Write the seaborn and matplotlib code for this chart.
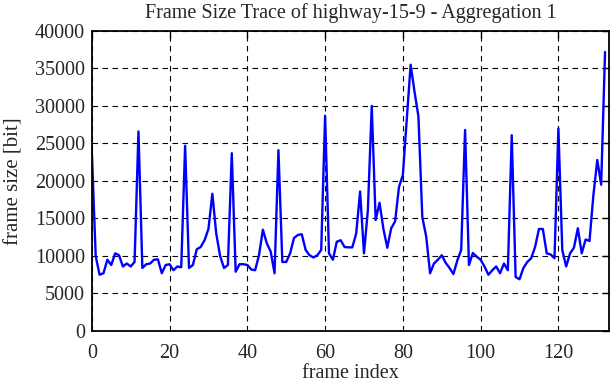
import numpy as np
import pandas as pd
import matplotlib
matplotlib.use('Agg')
import matplotlib.pyplot as plt
import seaborn as sns

# frame sizes, one per frame index 0..132
frame_size = [
    24000, 10000, 7500, 7700, 9500, 8800, 10350, 10100, 8600, 9000,
    8600, 9200, 26600, 8400, 8900, 9000, 9500, 9550, 7700, 8800,
    8900, 8100, 8600, 8500, 24700, 8400, 8800, 10900, 11200, 12100,
    13600, 18300, 13000, 10000, 8400, 8800, 23700, 7900, 8900, 8900,
    8800, 8200, 8100, 10100, 13500, 11700, 10600, 7700, 24100, 9200,
    9200, 10350, 12400, 12800, 12900, 10800, 10100, 9800, 10100, 10800,
    28700, 10350, 9500, 11900, 12100, 11200, 11150, 11150, 13000, 18600,
    10350, 16100, 30000, 14800, 17100, 13600, 11100, 13700, 14600, 19200,
    20800, 28100, 35500, 31900, 28600, 15200, 12600, 7700, 9000, 9500,
    10100, 9100, 8400, 7600, 9400, 10800, 26800, 8800, 10400, 9900,
    9500, 8600, 7500, 8100, 8600, 7700, 9000, 8100, 26100, 7200,
    6900, 8400, 9200, 9700, 11200, 13600, 13600, 10350, 10200, 9700,
    27000, 10800, 8600, 10350, 11100, 13700, 10350, 12200, 12000, 18100,
    22800, 19500, 37200,
]
frame_index = list(range(len(frame_size)))

x_ticks = [0, 20, 40, 60, 80, 100, 120]
y_ticks = [0, 5000, 10000, 15000, 20000, 25000, 30000, 35000, 40000]

df = pd.DataFrame({'frame index': frame_index, 'frame size': frame_size})

sns.set_style('white')
plt.rcParams['font.family'] = ['Liberation Serif', 'DejaVu Serif']
fs = 14.5

fig = plt.figure(figsize=(6.12, 3.82), dpi=100)
ax = fig.add_axes([0.150, 0.1335, 0.845, 0.7855])

sns.lineplot(data=df, x='frame index', y='frame size', ax=ax,
             color='#0000ff', linewidth=1.7)

ax.set_xlim(0, 133)
ax.set_ylim(0, 40000)
ax.set_xticks(x_ticks)
ax.set_yticks(y_ticks)
ax.grid(True, color='black', linestyle=(0, (5, 4)), linewidth=0.8)
ax.tick_params(direction='in', length=5, width=1, color='black',
               top=True, right=True, labelsize=fs, pad=5)
ax.tick_params(axis='x', pad=9)
for s in ax.spines.values():
    s.set_color('black')
    s.set_linewidth(1.3)

ax.set_title('Frame Size Trace of highway-15-9 - Aggregation 1', fontsize=fs, pad=9)
ax.set_xlabel('frame index', fontsize=fs, labelpad=1)
ax.set_ylabel('frame size [bit]', fontsize=15, labelpad=8)

fig.savefig('out.png', dpi=100)
